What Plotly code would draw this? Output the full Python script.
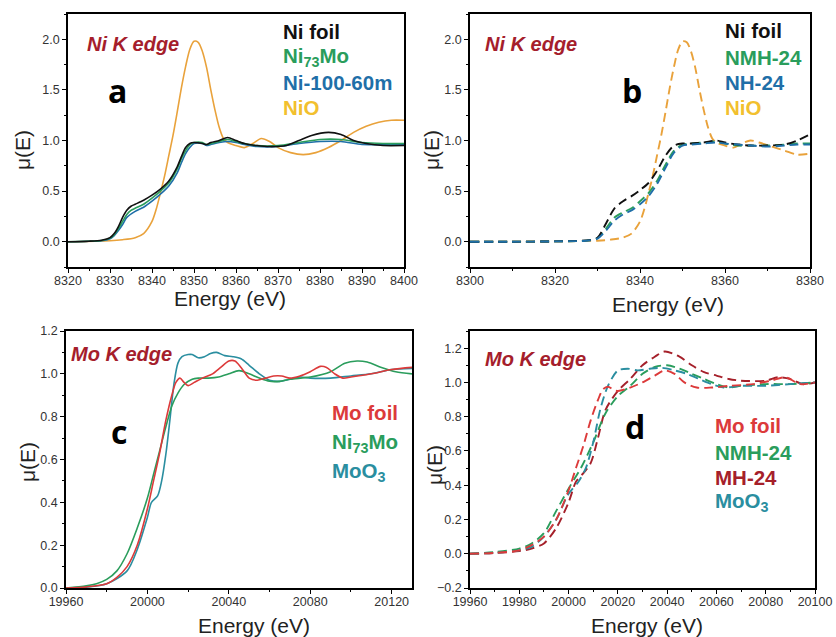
import plotly.graph_objects as go

W, H = 836, 637

# ---------------- data ----------------
# (a) Ni K edge, solid curves
a_ni_foil_e = [8320, 8325, 8328, 8330, 8331, 8332, 8333, 8334, 8335, 8336, 8338, 8340, 8342, 8344, 8346, 8347, 8348, 8349, 8350, 8352, 8353, 8354, 8356, 8358, 8360, 8362, 8365, 8368, 8372, 8375, 8378, 8382, 8385, 8388, 8391, 8395, 8400]
a_ni_foil_mu = [0.0, 0.005, 0.015, 0.04, 0.08, 0.15, 0.24, 0.31, 0.35, 0.37, 0.41, 0.46, 0.52, 0.6, 0.74, 0.84, 0.93, 0.97, 0.98, 0.97, 0.96, 0.98, 1.0, 1.03, 1.0, 0.97, 0.95, 0.94, 0.95, 1.0, 1.05, 1.08, 1.06, 1.0, 0.97, 0.95, 0.95]

a_ni73mo_e = [8320, 8325, 8328, 8330, 8331, 8332, 8333, 8334, 8335, 8336, 8338, 8340, 8342, 8344, 8346, 8347, 8348, 8349, 8350, 8352, 8353, 8354, 8356, 8358, 8360, 8362, 8365, 8370, 8375, 8380, 8385, 8390, 8395, 8400]
a_ni73mo_mu = [0.0, 0.004, 0.012, 0.035, 0.07, 0.13, 0.2, 0.27, 0.31, 0.33, 0.37, 0.43, 0.5, 0.58, 0.72, 0.82, 0.9, 0.96, 0.98, 0.98, 0.96, 0.97, 0.99, 1.01, 0.99, 0.97, 0.95, 0.95, 0.98, 1.01, 1.01, 0.98, 0.97, 0.97]

a_ni100_e = [8320, 8325, 8328, 8330, 8331, 8332, 8333, 8334, 8336, 8338, 8340, 8342, 8344, 8346, 8347, 8348, 8349, 8350, 8352, 8353, 8354, 8356, 8358, 8360, 8362, 8365, 8370, 8375, 8380, 8385, 8390, 8395, 8400]
a_ni100_mu = [0.0, 0.004, 0.01, 0.03, 0.06, 0.11, 0.17, 0.24, 0.3, 0.34, 0.4, 0.47, 0.55, 0.68, 0.78, 0.87, 0.93, 0.97, 0.97, 0.95, 0.96, 0.98, 0.99, 0.98, 0.96, 0.94, 0.94, 0.97, 0.99, 0.99, 0.96, 0.96, 0.96]

a_nio_e = [8320, 8330, 8333, 8336, 8338, 8340, 8341, 8342, 8343, 8344, 8345, 8346, 8347, 8348, 8349, 8350, 8351, 8352, 8353, 8354, 8355, 8356, 8357, 8358, 8360, 8362, 8364, 8366, 8368, 8370, 8373, 8376, 8379, 8382, 8385, 8388, 8391, 8394, 8397, 8400]
a_nio_mu = [0.0, 0.01, 0.02, 0.04, 0.08, 0.2, 0.32, 0.48, 0.65, 0.85, 1.05, 1.28, 1.52, 1.73, 1.9, 1.98, 1.97, 1.88, 1.72, 1.5, 1.3, 1.13, 1.02, 0.98, 0.95, 0.93, 0.97, 1.02, 0.99, 0.93, 0.88, 0.86, 0.88, 0.93, 1.0, 1.08, 1.14, 1.18, 1.2, 1.2]

# (b) Ni K edge, dashed curves
b_ni_foil_e = [8300, 8310, 8320, 8325, 8328, 8330, 8332, 8334, 8336, 8338, 8340, 8342, 8344, 8346, 8348, 8350, 8352, 8355, 8358, 8360, 8363, 8366, 8370, 8374, 8377, 8380]
b_ni_foil_mu = [0.0, 0.0, 0.003, 0.008, 0.015, 0.04, 0.18, 0.33, 0.4, 0.45, 0.51, 0.58, 0.7, 0.85, 0.95, 0.97, 0.97, 0.98, 1.0, 0.98, 0.96, 0.95, 0.95, 0.96, 1.0, 1.06]

b_nmh24_e = [8300, 8310, 8320, 8325, 8328, 8330, 8332, 8334, 8336, 8338, 8340, 8342, 8344, 8346, 8348, 8350, 8352, 8355, 8358, 8360, 8363, 8366, 8370, 8374, 8377, 8380]
b_nmh24_mu = [0.0, 0.0, 0.003, 0.007, 0.013, 0.035, 0.13, 0.24, 0.29, 0.33, 0.4, 0.48, 0.6, 0.76, 0.9, 0.96, 0.97, 0.98, 0.99, 0.97, 0.95, 0.95, 0.95, 0.96, 0.97, 0.97]

b_nh24_e = [8300, 8310, 8320, 8325, 8328, 8330, 8332, 8334, 8336, 8338, 8340, 8342, 8344, 8346, 8348, 8350, 8352, 8355, 8358, 8360, 8363, 8366, 8370, 8374, 8377, 8380]
b_nh24_mu = [0.0, 0.0, 0.003, 0.006, 0.012, 0.03, 0.11, 0.21, 0.27, 0.31, 0.37, 0.45, 0.57, 0.73, 0.88, 0.95, 0.96, 0.97, 0.98, 0.97, 0.96, 0.95, 0.94, 0.95, 0.96, 0.96]

b_nio_e = [8300, 8320, 8330, 8333, 8336, 8338, 8340, 8341, 8342, 8343, 8344, 8345, 8346, 8347, 8348, 8349, 8350, 8351, 8352, 8353, 8354, 8355, 8356, 8357, 8358, 8360, 8362, 8364, 8366, 8368, 8371, 8374, 8377, 8380]
b_nio_mu = [0.0, 0.003, 0.01, 0.02, 0.04, 0.08, 0.2, 0.32, 0.48, 0.65, 0.85, 1.05, 1.28, 1.52, 1.73, 1.9, 1.98, 1.97, 1.88, 1.72, 1.5, 1.3, 1.13, 1.02, 0.98, 0.95, 0.93, 0.97, 1.0, 0.98, 0.94, 0.9, 0.86, 0.87]

# (c) Mo K edge, solid curves
c_mo_foil_e = [19960, 19970, 19980, 19985, 19990, 19995, 20000, 20003, 20006, 20009, 20012, 20014, 20016, 20018, 20020, 20023, 20027, 20032, 20036, 20040, 20043, 20046, 20050, 20054, 20058, 20062, 20066, 20070, 20075, 20080, 20085, 20088, 20092, 20096, 20100, 20110, 20120, 20130]
c_mo_foil_mu = [0.0, 0.005, 0.02, 0.05, 0.1, 0.2, 0.37, 0.5, 0.63, 0.78, 0.9, 0.96, 0.98, 0.96, 0.945, 0.96, 0.98, 1.0, 1.03, 1.06, 1.06, 1.03, 0.98, 0.97, 0.98, 0.99, 0.99, 0.98, 0.99, 1.01, 1.035, 1.03, 1.0, 0.98, 0.985, 1.0, 1.02, 1.03]

c_ni73mo_e = [19960, 19970, 19975, 19980, 19985, 19990, 19995, 20000, 20003, 20006, 20009, 20012, 20015, 20018, 20022, 20025, 20030, 20035, 20040, 20045, 20050, 20055, 20060, 20065, 20070, 20080, 20090, 20097, 20103, 20108, 20115, 20122, 20130]
c_ni73mo_mu = [0.0, 0.01, 0.02, 0.04, 0.08, 0.16, 0.28, 0.42, 0.53, 0.64, 0.75, 0.85, 0.91, 0.95, 0.975, 0.98, 0.98, 0.985, 1.0, 1.015, 1.0, 0.98, 0.965, 0.965, 0.975, 0.985, 1.01, 1.05, 1.06, 1.055, 1.03, 1.01, 1.0]

c_moo3_e = [19960, 19970, 19980, 19990, 19995, 20000, 20002, 20005, 20007, 20009, 20011, 20013, 20015, 20017, 20020, 20022, 20025, 20028, 20031, 20034, 20038, 20042, 20046, 20050, 20055, 20060, 20065, 20070, 20075, 20080, 20090, 20100, 20110, 20120, 20130]
c_moo3_mu = [0.0, 0.004, 0.02, 0.08, 0.18, 0.33, 0.4, 0.43, 0.5, 0.62, 0.78, 0.95, 1.05, 1.08, 1.09, 1.09, 1.075, 1.08, 1.095, 1.1, 1.085, 1.08, 1.07, 1.04, 1.0, 0.97, 0.965, 0.975, 0.985, 0.98, 0.98, 0.99, 1.0, 1.02, 1.025]

# (d) Mo K edge, dashed curves
d_mo_foil_e = [19960, 19970, 19980, 19985, 19990, 19995, 20000, 20003, 20006, 20009, 20012, 20014, 20016, 20018, 20020, 20025, 20030, 20035, 20039, 20043, 20047, 20052, 20058, 20065, 20075, 20082, 20088, 20094, 20100]
d_mo_foil_mu = [0.0, 0.005, 0.02, 0.05, 0.1, 0.2, 0.37, 0.5, 0.63, 0.78, 0.9, 0.96, 0.975, 0.96, 0.95, 0.97, 1.0, 1.04, 1.07, 1.05, 1.0, 0.97, 0.97, 0.98, 0.99, 1.01, 1.03, 0.99, 1.0]

d_nmh24_e = [19960, 19970, 19980, 19985, 19990, 19995, 20000, 20005, 20010, 20015, 20020, 20025, 20030, 20035, 20040, 20045, 20050, 20055, 20060, 20065, 20070, 20080, 20090, 20100]
d_nmh24_mu = [0.0, 0.01, 0.03, 0.06, 0.12, 0.25, 0.38, 0.5, 0.65, 0.82, 0.92, 0.98, 1.05, 1.09, 1.1, 1.08, 1.05, 1.02, 0.99, 0.97, 0.98, 0.99, 0.99, 1.0]

d_mh24_e = [19960, 19970, 19980, 19985, 19990, 19995, 20000, 20003, 20006, 20009, 20012, 20015, 20020, 20025, 20030, 20035, 20039, 20045, 20050, 20055, 20060, 20065, 20070, 20080, 20085, 20090, 20095, 20100]
d_mh24_mu = [0.0, 0.005, 0.015, 0.03, 0.06, 0.15, 0.3, 0.42, 0.47, 0.53, 0.68, 0.84, 0.95, 1.02, 1.1, 1.15, 1.18, 1.15, 1.1, 1.06, 1.04, 1.02, 1.01, 1.01, 1.03, 1.02, 0.99, 1.0]

d_moo3_e = [19960, 19970, 19980, 19985, 19990, 19995, 20000, 20004, 20007, 20010, 20013, 20016, 20020, 20024, 20028, 20033, 20038, 20043, 20048, 20053, 20058, 20063, 20070, 20080, 20090, 20100]
d_moo3_mu = [0.0, 0.005, 0.02, 0.04, 0.1, 0.2, 0.35, 0.42, 0.5, 0.65, 0.85, 0.98, 1.07, 1.08, 1.07, 1.08, 1.085, 1.07, 1.05, 1.02, 0.99, 0.97, 0.98, 0.98, 0.99, 1.0]

# ---------------- colours ----------------
BLACK = "#111111"
GREEN = "#2a9d5c"
BLUE = "#1f6fa8"
ORANGE = "#e9a23b"
GOLD = "#f2c02e"
RED = "#dc3a3a"
DARKRED = "#a5202a"
TEAL = "#2a8ea0"
EDGE = "#a51e2c"

# ---------------- panel geometry (pixels) ----------------
def px_x(x):
    return x / W

def px_y(y):
    return 1 - y / H

panels = {
    "a": dict(x0=68, x1=404, y0=14, y1=267),
    "b": dict(x0=470, x1=810, y0=14, y1=267),
    "c": dict(x0=66, x1=412, y0=331, y1=588),
    "d": dict(x0=470, x1=815, y0=331, y1=588),
}
axis_ids = {"a": ("x", "y"), "b": ("x2", "y2"), "c": ("x3", "y3"), "d": ("x4", "y4")}

fig = go.Figure()

DASH = "9px,5px"

def add(panel, e, mu, color, dash="solid", width=1.6):
    xa, ya = axis_ids[panel]
    fig.add_trace(go.Scatter(
        x=e, y=mu, mode="lines", xaxis=xa, yaxis=ya, showlegend=False,
        line=dict(color=color, width=width, dash=dash, shape="spline", smoothing=0.8),
        hoverinfo="skip",
    ))

# (a)
add("a", a_nio_e, a_nio_mu, ORANGE)
add("a", a_ni100_e, a_ni100_mu, BLUE)
add("a", a_ni73mo_e, a_ni73mo_mu, GREEN)
add("a", a_ni_foil_e, a_ni_foil_mu, BLACK)
# (b)
add("b", b_nio_e, b_nio_mu, ORANGE, DASH, 1.9)
add("b", b_nmh24_e, b_nmh24_mu, GREEN, DASH, 1.9)
add("b", b_ni_foil_e, b_ni_foil_mu, BLACK, DASH, 1.9)
add("b", b_nh24_e, b_nh24_mu, BLUE, DASH, 1.9)
# (c)
add("c", c_moo3_e, c_moo3_mu, TEAL)
add("c", c_ni73mo_e, c_ni73mo_mu, GREEN)
add("c", c_mo_foil_e, c_mo_foil_mu, RED)
# (d)
add("d", d_mh24_e, d_mh24_mu, DARKRED, DASH, 1.9)
add("d", d_nmh24_e, d_nmh24_mu, GREEN, DASH, 1.9)
add("d", d_moo3_e, d_moo3_mu, TEAL, DASH, 1.9)
add("d", d_mo_foil_e, d_mo_foil_mu, RED, DASH, 1.9)

# ---------------- axes ----------------
TICKFONT = dict(family="Liberation Sans, Arial, sans-serif", size=12.5, color="#333333")

x_specs = {
    "a": dict(range=[8320, 8400], dtick=10, minor=5),
    "b": dict(range=[8300, 8380], dtick=20, minor=10),
    "c": dict(range=[19960, 20130], dtick=40, minor=20),
    "d": dict(range=[19960, 20100], dtick=20, minor=10),
}
y_specs = {
    "a": dict(range=[-0.25, 2.25], dtick=0.5, minor=0.25),
    "b": dict(range=[-0.25, 2.25], dtick=0.5, minor=0.25),
    "c": dict(range=[0, 1.2], dtick=0.2, minor=0.1),
    "d": dict(range=[-0.2, 1.3], dtick=0.2, minor=0.1),
}

layout_axes = {}
for p, g in panels.items():
    xa, ya = axis_ids[p]
    xs, ys = x_specs[p], y_specs[p]
    xkey = "xaxis" if xa == "x" else "xaxis" + xa[1:]
    ykey = "yaxis" if ya == "y" else "yaxis" + ya[1:]
    layout_axes[xkey] = dict(
        domain=[px_x(g["x0"]), px_x(g["x1"])], anchor=ya, range=xs["range"],
        tick0=xs["range"][0], dtick=xs["dtick"], tickformat="d",
        ticks="outside", ticklen=4, tickwidth=1.3, tickcolor="black",
        ticklabelstandoff=-3, automargin=False,
        minor=dict(ticks="outside", ticklen=2, tickwidth=1.1, tickcolor="black", dtick=xs["minor"]),
        showline=True, linecolor="black", linewidth=1.8, mirror=True,
        showgrid=False, zeroline=False, tickfont=TICKFONT, fixedrange=True,
    )
    layout_axes[ykey] = dict(
        domain=[px_y(g["y1"]), px_y(g["y0"])], anchor=xa, range=ys["range"],
        tick0=0, dtick=ys["dtick"], tickformat=".1f", automargin=False,
        ticks="outside", ticklen=4, tickwidth=1.3, tickcolor="black",
        minor=dict(ticks="outside", ticklen=2, tickwidth=1.1, tickcolor="black", dtick=ys["minor"], tick0=0),
        showline=True, linecolor="black", linewidth=1.8, mirror=True,
        showgrid=False, zeroline=False, tickfont=TICKFONT, fixedrange=True,
    )

# ---------------- text ----------------
ann = []

def text(x, y, s, size, color, bold=False, italic=False, xanchor="center", angle=0,
         family="Liberation Sans, Arial, sans-serif"):
    if bold:
        s = "<b>" + s + "</b>"
    if italic:
        s = "<i>" + s + "</i>"
    ann.append(dict(x=px_x(x), y=px_y(y), xref="paper", yref="paper", text=s,
                    showarrow=False, xanchor=xanchor, yanchor="middle", textangle=angle,
                    borderpad=0, font=dict(size=size, color=color, family=family)))

LABEL_FONT = "Open Sans, Liberation Sans, sans-serif"

# axis titles
text(230, 298, "Energy (eV)", 21, "#222222")
text(668, 304, "Energy (eV)", 21, "#222222")
text(254, 625, "Energy (eV)", 21, "#222222")
text(647, 625, "Energy (eV)", 21, "#222222")
text(22, 150, "μ(E)", 21, "#222222", angle=-90)
text(431, 150, "μ(E)", 21, "#222222", angle=-90)
text(27, 462, "μ(E)", 21, "#222222", angle=-90)
text(434, 465, "μ(E)", 21, "#222222", angle=-90)

# edge labels
text(86, 44, "Ni K edge", 20, EDGE, bold=True, italic=True, xanchor="left")
text(484, 44, "Ni K edge", 20, EDGE, bold=True, italic=True, xanchor="left")
text(70, 354, "Mo K edge", 20, EDGE, bold=True, italic=True, xanchor="left")
text(484, 359, "Mo K edge", 20, EDGE, bold=True, italic=True, xanchor="left")

# panel letters
text(118, 91, "a", 32, "#000000", bold=True, family=LABEL_FONT)
text(632, 90, "b", 32, "#000000", bold=True, family=LABEL_FONT)
text(119, 431, "c", 32, "#000000", bold=True, family=LABEL_FONT)
text(635, 427, "d", 32, "#000000", bold=True, family=LABEL_FONT)

# legends
legend_a = [("Ni foil", BLACK), ("Ni<sub>73</sub>Mo", GREEN), ("Ni-100-60m", BLUE), ("NiO", GOLD)]
legend_b = [("Ni foil", BLACK), ("NMH-24", GREEN), ("NH-24", BLUE), ("NiO", GOLD)]
legend_c = [("Mo foil", RED), ("Ni<sub>73</sub>Mo", GREEN), ("MoO<sub>3</sub>", TEAL)]
legend_d = [("Mo foil", RED), ("NMH-24", GREEN), ("MH-24", DARKRED), ("MoO<sub>3</sub>", TEAL)]

LEG = 20.5
for (s, c), y in zip(legend_a, [32, 57, 83, 107]):
    text(282, y, s, LEG, c, bold=True, xanchor="left")
for (s, c), y in zip(legend_b, [31, 57, 83, 107]):
    text(724, y, s, LEG, c, bold=True, xanchor="left")
for (s, c), y in zip(legend_c, [412, 443, 472]):
    text(331, y, s, LEG, c, bold=True, xanchor="left")
for (s, c), y in zip(legend_d, [425, 452, 477, 502]):
    text(714, y, s, LEG, c, bold=True, xanchor="left")

fig.update_layout(
    width=W, height=H, margin=dict(l=0, r=0, t=0, b=0, autoexpand=False),
    paper_bgcolor="white", plot_bgcolor="white",
    annotations=ann, showlegend=False,
    **layout_axes,
)

fig.write_html("out.html", config={"displayModeBar": False})
